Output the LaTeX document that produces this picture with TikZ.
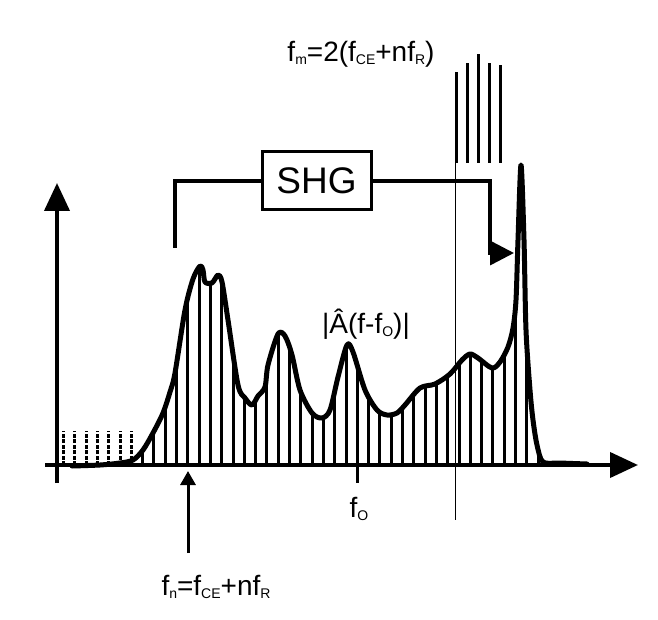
\documentclass[tikz,border=0pt]{standalone}
\usepackage{fontspec}
\setmainfont{Liberation Sans}
\usetikzlibrary{arrows.meta,positioning,calc}
\newcommand{\subtxt}[1]{\raisebox{-3pt}{\fontsize{14}{14}\selectfont #1}}

\begin{document}
\begin{tikzpicture}[x=1pt, y=-1pt,
    shgbox/.style={rectangle, draw, line width=3pt, minimum width=109pt,
        minimum height=58pt, font=\fontsize{37}{40}\selectfont, inner sep=0pt},
    lbl/.style={font=\fontsize{28}{30}\selectfont, inner sep=0pt, anchor=base},
    axis/.style={line width=4pt, -{Triangle[length=28pt, width=25pt]}},
    combline/.style={line width=3pt},
    envline/.style={line width=5pt, line join=round, line cap=round},
    bracket/.style={line width=3.5pt}
]
\useasboundingbox (0,0) rectangle (658,620);

% axes
\coordinate (yb) at (57,483);
\coordinate (yt) at (57,183);
\coordinate (xl) at (45,465);
\coordinate (xr) at (638,465);
\draw[axis] (yb) -- (yt);
\draw[axis] (xl) -- (xr);

% spectrum envelope
\path[save path=\envpath] plot[smooth, tension=0.5] coordinates {
  (72,466) (100,465) (120,463) (133,460) (143,450) (153,433) (163,413)
  (170,392) (175,373) (185,310) (193,279) (200,266) (203,270) (205,282)
  (212,283) (218,275) (222,282) (228,320) (238,385) (245,398) (252,405)
  (258,396) (265,387) (268,365) (278,334) (285,336) (292,355) (300,390)
  (312,413) (322,418) (330,410) (338,377) (347,345) (353,352) (365,390)
  (377,410) (387,415) (397,413) (405,405) (420,388) (435,384) (450,374)
  (462,360) (470,354) (478,358) (492,368) (500,362) (508,347) (513,328)
  (516,300) (518,240) (521,165) (524,240) (526,330) (530,390) (533,420)
  (537,445) (543,462) (560,463) (587,464)};

% comb modes under the envelope
\begin{scope}
\clip[use path=\envpath];
\foreach \k in {7,...,42}
  \draw[combline] (63.5+11.3*\k,466) -- (63.5+11.3*\k,150);
\end{scope}
\foreach \k in {0,...,6}
  \draw[combline, dash pattern=on 4pt off 1.5pt] (63.5+11.3*\k,465) -- (63.5+11.3*\k,431);
\draw[envline, use path=\envpath];

% doubled modes
\foreach \x/\t in {456/72, 467/63, 478/54, 489/63, 500/65}
  \draw[line width=3pt] (\x,163) -- (\x,\t);
\coordinate (mtop) at (455,72);
\coordinate (mbot) at (455,520);
\draw[line width=0.8pt] (mtop) -- (mbot);

% SHG
\node[shgbox] (shg) at (316.5,181) {SHG};
\coordinate (shgin) at (175,248);
\coordinate (shgout) at (514,253);
\draw[bracket] (shgin) -- (shgin |- shg.west) -- (shg.west);
\draw[bracket, -{Triangle[length=24pt, width=24pt]}] (shg.east) -| ($(shgout)+(-24,0)$) -- (shgout);

% labels
\node[lbl] (fm) at (361,62) {f\subtxt{m}=2(f\subtxt{CE}+nf\subtxt{R})};
\node[lbl] (amp) at (366,333) {|Â(f-f\subtxt{O})|};
\node[lbl] (fo) at (359,517) {f\subtxt{O}};
\draw[line width=3pt] (357,465) -- (357,483);
\node[lbl] (fn) at (216,595) {f\subtxt{n}=f\subtxt{CE}+nf\subtxt{R}};
\coordinate (fntail) at (188,553);
\coordinate (fnhead) at (188,471);
\draw[line width=3pt, -{Triangle[length=14pt, width=15pt]}] (fntail) -- (fnhead);
\end{tikzpicture}
\end{document}
